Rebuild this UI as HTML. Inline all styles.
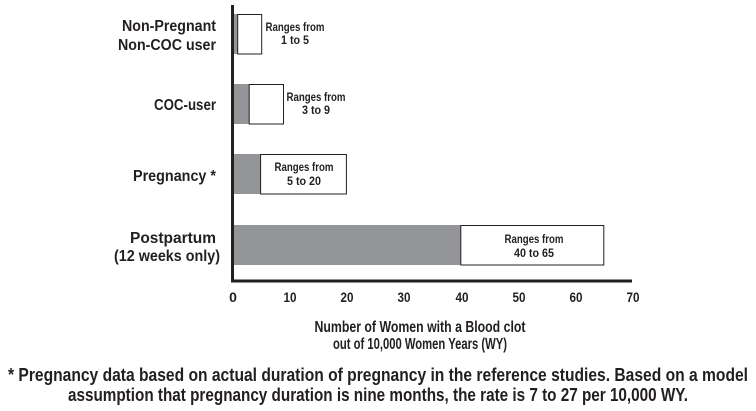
<!DOCTYPE html>
<html><head><meta charset="utf-8"><style>
html,body{margin:0;padding:0;background:#fff;}
svg{display:block;}
text{font-family:"Liberation Sans Narrow","Liberation Sans",sans-serif;fill:#231f20;font-weight:bold;}
</style></head><body>
<svg width="756" height="411" viewBox="0 0 756 411" xmlns="http://www.w3.org/2000/svg">
<g stroke="#231f20" stroke-width="1">
<rect x="232" y="14" width="5.7" height="40" fill="#939598" stroke="none"/>
<rect x="237.7" y="14.5" width="24" height="39.5" fill="#fff"/>
<rect x="232" y="84" width="17.2" height="40" fill="#939598" stroke="none"/>
<rect x="249.2" y="84.5" width="34.3" height="39.5" fill="#fff"/>
<rect x="232" y="154" width="28.6" height="40" fill="#939598" stroke="none"/>
<rect x="260.6" y="154.5" width="85.8" height="39.5" fill="#fff"/>
<rect x="232" y="225" width="228.8" height="40" fill="#939598" stroke="none"/>
<rect x="460.8" y="225.5" width="143" height="39.5" fill="#fff"/>
</g>
<line x1="232.5" y1="5" x2="232.5" y2="282" stroke="#231f20" stroke-width="3"/>
<line x1="231" y1="281" x2="632" y2="281" stroke="#231f20" stroke-width="3"/>
<g font-size="12" text-anchor="middle">
<text x="295" y="31" textLength="59" lengthAdjust="spacingAndGlyphs">Ranges from</text><text x="295" y="44" textLength="28" lengthAdjust="spacingAndGlyphs">1 to 5</text>
<text x="316" y="101" textLength="59" lengthAdjust="spacingAndGlyphs">Ranges from</text><text x="316" y="114" textLength="28" lengthAdjust="spacingAndGlyphs">3 to 9</text>
<text x="304" y="171" textLength="59" lengthAdjust="spacingAndGlyphs">Ranges from</text><text x="304" y="185" textLength="34" lengthAdjust="spacingAndGlyphs">5 to 20</text>
<text x="534" y="243" textLength="59" lengthAdjust="spacingAndGlyphs">Ranges from</text><text x="534" y="257" textLength="40" lengthAdjust="spacingAndGlyphs">40 to 65</text>
</g>
<g font-size="16" text-anchor="end">
<text x="216" y="31" textLength="94" lengthAdjust="spacingAndGlyphs">Non-Pregnant</text><text x="216" y="50" textLength="98" lengthAdjust="spacingAndGlyphs">Non-COC user</text>
<text x="216" y="110" textLength="62" lengthAdjust="spacingAndGlyphs">COC-user</text>
<text x="216" y="181" textLength="83" lengthAdjust="spacingAndGlyphs">Pregnancy *</text>
<text x="216" y="243" textLength="86" lengthAdjust="spacingAndGlyphs">Postpartum</text><text x="220" y="261" textLength="106" lengthAdjust="spacingAndGlyphs">(12 weeks only)</text>
</g>
<g font-size="14" text-anchor="middle">
<text x="233" y="302">0</text><text x="290" y="302" textLength="13" lengthAdjust="spacingAndGlyphs">10</text><text x="347" y="302" textLength="13" lengthAdjust="spacingAndGlyphs">20</text><text x="404" y="302" textLength="13" lengthAdjust="spacingAndGlyphs">30</text><text x="462" y="302" textLength="13" lengthAdjust="spacingAndGlyphs">40</text><text x="519" y="302" textLength="13" lengthAdjust="spacingAndGlyphs">50</text><text x="576" y="302" textLength="13" lengthAdjust="spacingAndGlyphs">60</text><text x="633" y="302" textLength="13" lengthAdjust="spacingAndGlyphs">70</text>
</g>
<g font-size="16" text-anchor="middle">
<text x="420" y="332" textLength="211" lengthAdjust="spacingAndGlyphs">Number of Women with a Blood clot</text>
<text x="420" y="349" textLength="174" lengthAdjust="spacingAndGlyphs">out of 10,000 Women Years (WY)</text>
</g>
<g font-size="18" text-anchor="middle">
<text x="378" y="381" textLength="740" lengthAdjust="spacingAndGlyphs">* Pregnancy data based on actual duration of pregnancy in the reference studies. Based on a model</text>
<text x="378" y="401" textLength="620" lengthAdjust="spacingAndGlyphs">assumption that pregnancy duration is nine months, the rate is 7 to 27 per 10,000 WY.</text>
</g>
</svg>
</body></html>
